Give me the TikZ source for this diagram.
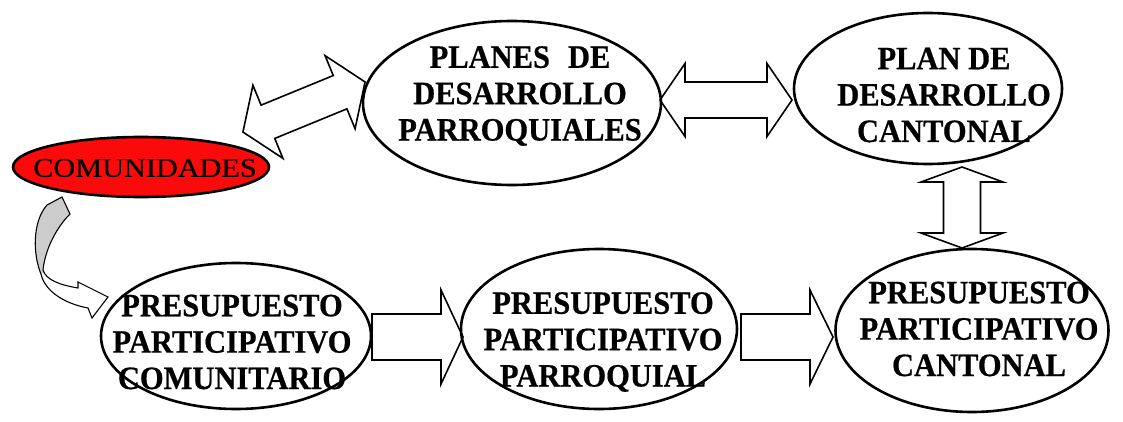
\documentclass[tikz,border=0pt]{standalone}
\usepackage{fontspec}
\setmainfont[BoldFeatures={FakeBold=0.6}]{Liberation Serif}
\newfontfamily\comfont[FakeBold=0.5]{Liberation Serif}
\usetikzlibrary{shapes.geometric,calc}
\definecolor{comred}{RGB}{250,10,10}
\definecolor{tailgray}{RGB}{204,204,204}
\tikzset{
  oval/.style={ellipse, draw, line width=2.6pt, inner sep=0pt},
  lbl/.style={align=center, inner sep=0pt, yscale=1.07, font=\fontsize{30.5}{34}\selectfont\bfseries},
  blockarrow/.style={draw, fill=white, line width=1.6pt, line join=miter},
  pics/dblblock/.style n args={4}{code={
    \path[blockarrow] ({-#1/2},0) -- ({-#1/2+#2},{#3/2}) -- ({-#1/2+#2},{#4/2})
      -- ({#1/2-#2},{#4/2}) -- ({#1/2-#2},{#3/2}) -- ({#1/2},0)
      -- ({#1/2-#2},{-#3/2}) -- ({#1/2-#2},{-#4/2}) -- ({-#1/2+#2},{-#4/2})
      -- ({-#1/2+#2},{-#3/2}) -- cycle;
  }},
  pics/sglblock/.style n args={4}{code={
    \path[blockarrow] ({-#1/2},{#4/2}) -- ({#1/2-#2},{#4/2}) -- ({#1/2-#2},{#3/2})
      -- ({#1/2},0) -- ({#1/2-#2},{-#3/2}) -- ({#1/2-#2},{-#4/2})
      -- ({-#1/2},{-#4/2}) -- cycle;
  }},
}
\begin{document}
\begin{tikzpicture}[x=1pt,y=-1pt]
\useasboundingbox (0,0) rectangle (1123,422);
% ---------- arrow end points ----------
\coordinate (a1s) at (243,132);  \coordinate (a1e) at (365,82);
\coordinate (a2s) at (660,100);  \coordinate (a2e) at (792,100);
\coordinate (a3s) at (962,167);  \coordinate (a3e) at (962,248);
\coordinate (a4s) at (372,337);  \coordinate (a4e) at (463,337);
\coordinate (a5s) at (741,337);  \coordinate (a5e) at (833,337);
% ---------- block arrows ----------
\pic[rotate=22.3] at ($(a1s)!0.5!(a1e)$) {dblblock={132}{27}{79}{36}};
\pic at ($(a2s)!0.5!(a2e)$) {dblblock={132}{25}{73}{36}};
\pic[rotate=90] at ($(a3s)!0.5!(a3e)$) {dblblock={81}{15}{82}{37}};
\pic at ($(a4s)!0.5!(a4e)$) {sglblock={91}{22}{94}{46}};
\pic at ($(a5s)!0.5!(a5e)$) {sglblock={92}{23}{94}{46}};
% ---------- curved arrow ----------
\def\curvedarrow{(62,197) -- (70,214) .. controls (56,228) and (45,250) .. (43,270)
  .. controls (46,280) and (60,285) .. (78,288) -- (78,282) -- (108,297) -- (92,318)
  -- (88,308) .. controls (66,304) and (45,292) .. (41,274)
  .. controls (33,255) and (32,222) .. (47,205) -- cycle}
\fill[white] \curvedarrow;
\begin{scope}
  \clip (0,190) rectangle (120,272);
  \fill[tailgray] \curvedarrow;
\end{scope}
\draw[line width=1.1pt, line join=miter] \curvedarrow;
% ---------- ovals ----------
\node[oval, minimum width=298pt, minimum height=164pt] (planes) at (512,103) {};
\node[oval, minimum width=268pt, minimum height=151pt] (plan) at (928,88.5) {};
\node[oval, fill=comred, minimum width=256pt, minimum height=60pt] (com) at (141,167) {};
\node[oval, minimum width=270pt, minimum height=146pt] (ppcom) at (236,336) {};
\node[oval, minimum width=276pt, minimum height=160pt] (pppar) at (599,329) {};
\node[oval, minimum width=273pt, minimum height=163pt] (ppcan) at (972,330.5) {};
% ---------- labels ----------
\node[lbl] (planes-t) at (520,96) {PLANES\hspace{18pt}DE\\DESARROLLO\\PARROQUIALES};
\node[lbl] (plan-t) at (944,95) {PLAN DE\\DESARROLLO\\CANTONAL};
\node[inner sep=0pt, xscale=1.12, font=\fontsize{27}{30}\comfont] (com-t) at (145,168) {COMUNIDADES};
\node[lbl] (ppcom-t) at (232,342) {PRESUPUESTO\\PARTICIPATIVO\\COMUNITARIO};
\node[lbl] (pppar-t) at (603,342) {PRESUPUESTO\\PARTICIPATIVO\\PARROQUIAL};
\node[lbl] (ppcan-t) at (979,329) {PRESUPUESTO\\PARTICIPATIVO\\CANTONAL};
\end{tikzpicture}
\end{document}
